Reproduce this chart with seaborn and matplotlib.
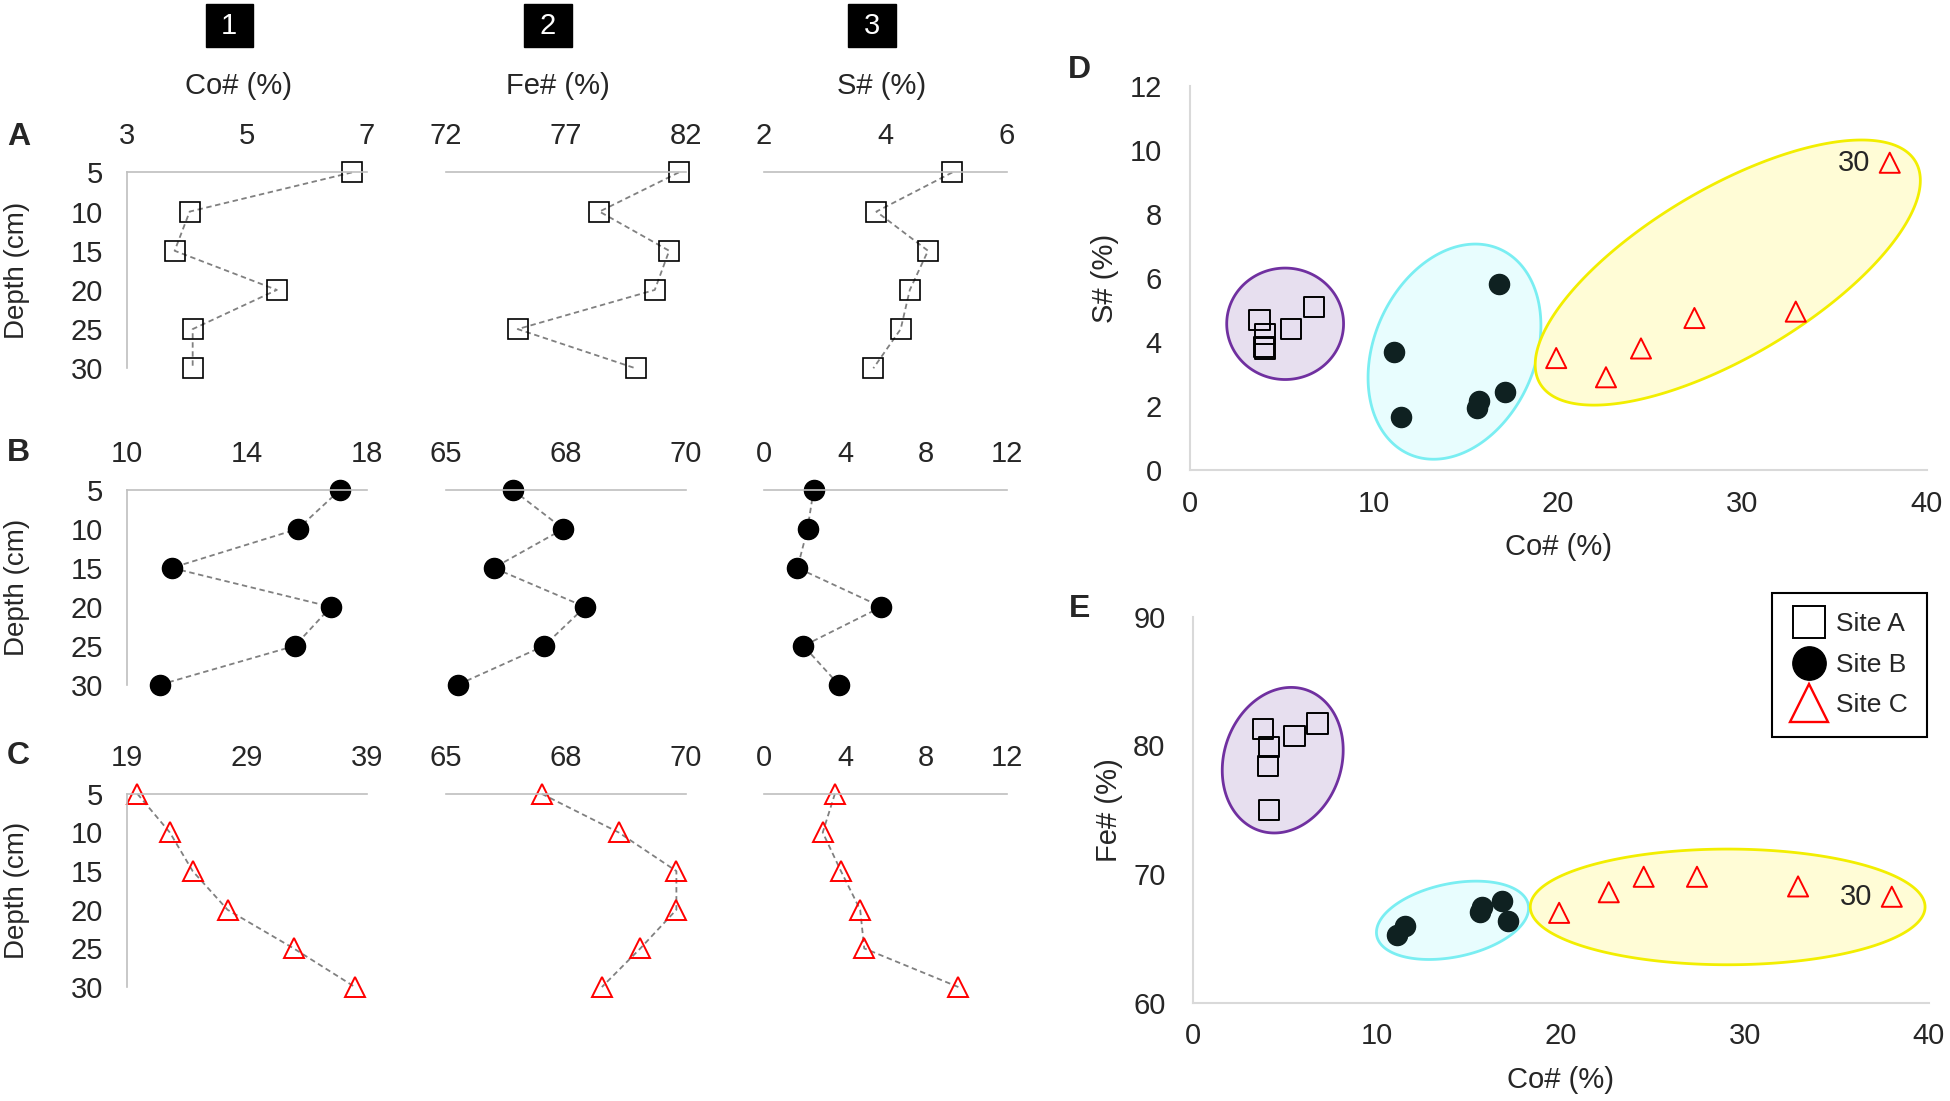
import numpy as np
import pandas as pd
import matplotlib.pyplot as plt
from matplotlib.lines import Line2D
from matplotlib.patches import Rectangle
import seaborn as sns

# depth profiles (cm) for the three sites
depths = [5, 10, 15, 20, 25, 30]

co_a = [6.75, 4.05, 3.8, 5.5, 4.1, 4.1]
fe_a = [81.7, 78.4, 81.3, 80.7, 75.0, 79.9]
s_a = [5.1, 3.85, 4.7, 4.4, 4.25, 3.8]

co_b = [17.1, 15.7, 11.5, 16.8, 15.6, 11.1]
fe_b = [66.4, 67.45, 66.0, 67.9, 67.05, 65.25]
s_b = [2.45, 2.15, 1.65, 5.8, 1.95, 3.7]

co_c = [19.9, 22.6, 24.5, 27.4, 32.9, 38.0]
fe_c = [67.0, 68.6, 69.8, 69.8, 69.05, 68.25]
s_c = [3.5, 2.9, 3.8, 4.75, 4.95, 9.6]

sites = ["Site A", "Site B", "Site C"]
row_letters = ["A", "B", "C"]
col_numbers = ["1", "2", "3"]
col_titles = ["Co# (%)", "Fe# (%)", "S# (%)"]

# axis limits / ticks for each row (Co, Fe, S)
row_limits = [
    [(3, 7), (72, 82), (2, 6)],
    [(10, 18), (65, 70), (0, 12)],
    [(19, 39), (65, 70), (0, 12)],
]
row_ticks = [
    [[3, 5, 7], [72, 77, 82], [2, 4, 6]],
    [[10, 14, 18], [65, 67.5, 70], [0, 4, 8, 12]],
    [[19, 29, 39], [65, 67.5, 70], [0, 4, 8, 12]],
]
row_ticklabels = [
    [["3", "5", "7"], ["72", "77", "82"], ["2", "4", "6"]],
    [["10", "14", "18"], ["65", "68", "70"], ["0", "4", "8", "12"]],
    [["19", "29", "39"], ["65", "68", "70"], ["0", "4", "8", "12"]],
]

# grouping ellipses: (cx, cy, rx, ry, phase deg) -> x = cx + rx cos t, y = cy + ry cos(t - phase)
ell_d = [(5.19, 4.57, 3.17, 1.74, 90), (14.38, 3.70, 4.69, 3.36, 76), (29.21, 6.17, 10.45, 4.14, 46)]
ell_e = [(4.86, 78.85, 3.29, 5.65, 82), (14.1, 66.42, 4.14, 3.04, 72), (29.07, 67.46, 10.74, 4.49, 90)]
ell_fill = ["#e7dfef", "#e8fdfe", "#fffcd6"]
ell_edge = ["#7030a0", "#7aeef2", "#f2ee00"]

sns.set_theme(style="white")
plt.rcParams['font.family'] = ['Liberation Sans', 'DejaVu Sans']

profiles = [[co_a, fe_a, s_a], [co_b, fe_b, s_b], [co_c, fe_c, s_c]]

marker_kw = [
    dict(marker="s", markerfacecolor="none", markeredgecolor="black", markeredgewidth=1.2),
    dict(marker="o", markerfacecolor="black", markeredgecolor="black", markeredgewidth=1.0),
    dict(marker="^", markerfacecolor="none", markeredgecolor="#ff0000", markeredgewidth=1.4),
]

fig = plt.figure(figsize=(19.5, 11.01), dpi=100)

col_x = [(0.0649, 0.1882), (0.2285, 0.3518), (0.3918, 0.5164)]
row_y = [(0.6655, 0.8434), (0.378, 0.555), (0.1035, 0.279)]
ax_grey = "#bfbfbf"

for r in range(3):
    for c in range(3):
        x0, x1 = col_x[c]
        y0, y1 = row_y[r]
        ax = fig.add_axes([x0, y0, x1 - x0, y1 - y0])
        sns.lineplot(x=profiles[r][c], y=depths, orient="y", ax=ax,
                     color="#808080", linestyle=(0, (3, 2)), linewidth=1.3,
                     markersize=14.5, clip_on=False, **marker_kw[r])
        ax.set_xlim(*row_limits[r][c])
        ax.set_ylim(30, 5)
        ax.xaxis.tick_top()
        ax.set_xticks(row_ticks[r][c])
        ax.set_xticklabels(row_ticklabels[r][c])
        ax.tick_params(axis="x", length=0, pad=16, labelsize=21)
        for side in ["right", "bottom"]:
            ax.spines[side].set_visible(False)
        ax.spines["top"].set_color(ax_grey)
        ax.spines["top"].set_linewidth(1.2)
        if c == 0:
            ax.spines["left"].set_color(ax_grey)
            ax.spines["left"].set_linewidth(1.2)
            ax.set_yticks(depths)
            ax.tick_params(axis="y", length=0, pad=17, labelsize=21)
            ax.set_ylabel("Depth (cm)", fontsize=20)
            ax.yaxis.set_label_coords(-0.40, 0.5)
        else:
            ax.spines["left"].set_visible(False)
            ax.set_yticks([])
        ax.set_xlabel("")
        ax.set_facecolor("none")

# column headers
box_cx = [0.1175, 0.2810, 0.4472]
for cx, num, title in zip(box_cx, col_numbers, col_titles):
    fig.add_artist(Rectangle((cx - 0.0121, 0.957), 0.0242, 0.039,
                             transform=fig.transFigure, color="black"))
    fig.text(cx, 0.9765, num, color="white", fontsize=21, ha="center", va="center")
    fig.text(cx + 0.005, 0.922, title, fontsize=21, ha="center", va="center")

for letter, yy in zip(row_letters, [0.876, 0.589, 0.313]):
    fig.text(0.0095, yy, letter, fontsize=23, fontweight="bold", ha="center", va="center")

# scatter panels D and E
scatter_df = pd.DataFrame({
    "site": np.repeat(sites, 6),
    "co": co_a + co_b + co_c,
    "fe": fe_a + fe_b + fe_c,
    "s": s_a + s_b + s_c,
})

sc_kw = {
    "Site A": dict(marker="s", facecolor="none", edgecolor="black", linewidth=1.4),
    "Site B": dict(marker="o", facecolor="#0f2121", edgecolor="#0f2121", linewidth=1.0),
    "Site C": dict(marker="^", facecolor="none", edgecolor="#ff0000", linewidth=1.4),
}

t = np.linspace(0, 2 * np.pi, 300)
d_grey = "#d9d9d9"


def scatter_panel(rect, ycol, ylim, yticks, ylabel, ells):
    ax = fig.add_axes(rect)
    for (cx, cy, rx, ry, ph), fc, ec in zip(ells, ell_fill, ell_edge):
        ex = cx + rx * np.cos(t)
        ey = cy + ry * np.cos(t - np.deg2rad(ph))
        ax.fill(ex, ey, facecolor=fc, edgecolor=ec, linewidth=2.0, zorder=1)
    for site in sites:
        sub = scatter_df[scatter_df["site"] == site]
        kw = sc_kw[site]
        sns.scatterplot(data=sub, x="co", y=ycol, ax=ax, s=210, zorder=3,
                        marker=kw["marker"], facecolor=kw["facecolor"],
                        edgecolor=kw["edgecolor"], linewidth=kw["linewidth"],
                        clip_on=False)
    last = scatter_df[scatter_df["site"] == "Site C"].iloc[-1]
    ax.annotate("30", (last["co"], last[ycol]), xytext=(-14, 0),
                textcoords="offset points", ha="right", va="center", fontsize=21)
    ax.set_xlim(0, 40)
    ax.set_ylim(*ylim)
    ax.set_xticks([0, 10, 20, 30, 40])
    ax.set_yticks(yticks)
    ax.tick_params(axis="x", length=0, pad=14, labelsize=21)
    ax.tick_params(axis="y", length=0, pad=20, labelsize=21)
    for side in ["right", "top"]:
        ax.spines[side].set_visible(False)
    for side in ["left", "bottom"]:
        ax.spines[side].set_color(d_grey)
        ax.spines[side].set_linewidth(1.5)
    ax.set_xlabel("Co# (%)", fontsize=21)
    ax.set_ylabel(ylabel, fontsize=21)
    ax.xaxis.set_label_coords(0.5, -0.163)
    ax.yaxis.set_label_coords(-0.096, 0.5)
    return ax


ax_d = scatter_panel([0.610, 0.573, 0.378, 0.349], "s", (0, 12), [0, 2, 4, 6, 8, 10, 12], "S# (%)", ell_d)
ax_e = scatter_panel([0.612, 0.089, 0.377, 0.351], "fe", (60, 90), [60, 70, 80, 90], "Fe# (%)", ell_e)

handles = [
    Line2D([], [], ls="none", marker="s", ms=23, mfc="white", mec="black", mew=1.4, label="Site A"),
    Line2D([], [], ls="none", marker="o", ms=24, mfc="black", mec="black", label="Site B"),
    Line2D([], [], ls="none", marker="^", ms=27, mfc="white", mec="#ff0000", mew=1.7, label="Site C"),
]
leg = ax_e.legend(handles=handles, loc="upper right", bbox_to_anchor=(0.998, 1.062),
                  fontsize=19, frameon=True, fancybox=False, framealpha=1,
                  edgecolor="black", handletextpad=0.35, borderpad=0.75,
                  labelspacing=0.62, handlelength=1.3, borderaxespad=0)
leg.get_frame().set_linewidth(1.5)

fig.text(0.5535, 0.936, "D", fontsize=23, fontweight="bold", ha="center", va="center")
fig.text(0.5535, 0.447, "E", fontsize=23, fontweight="bold", ha="center", va="center")

fig.savefig("out.png", dpi=100, facecolor="white")
